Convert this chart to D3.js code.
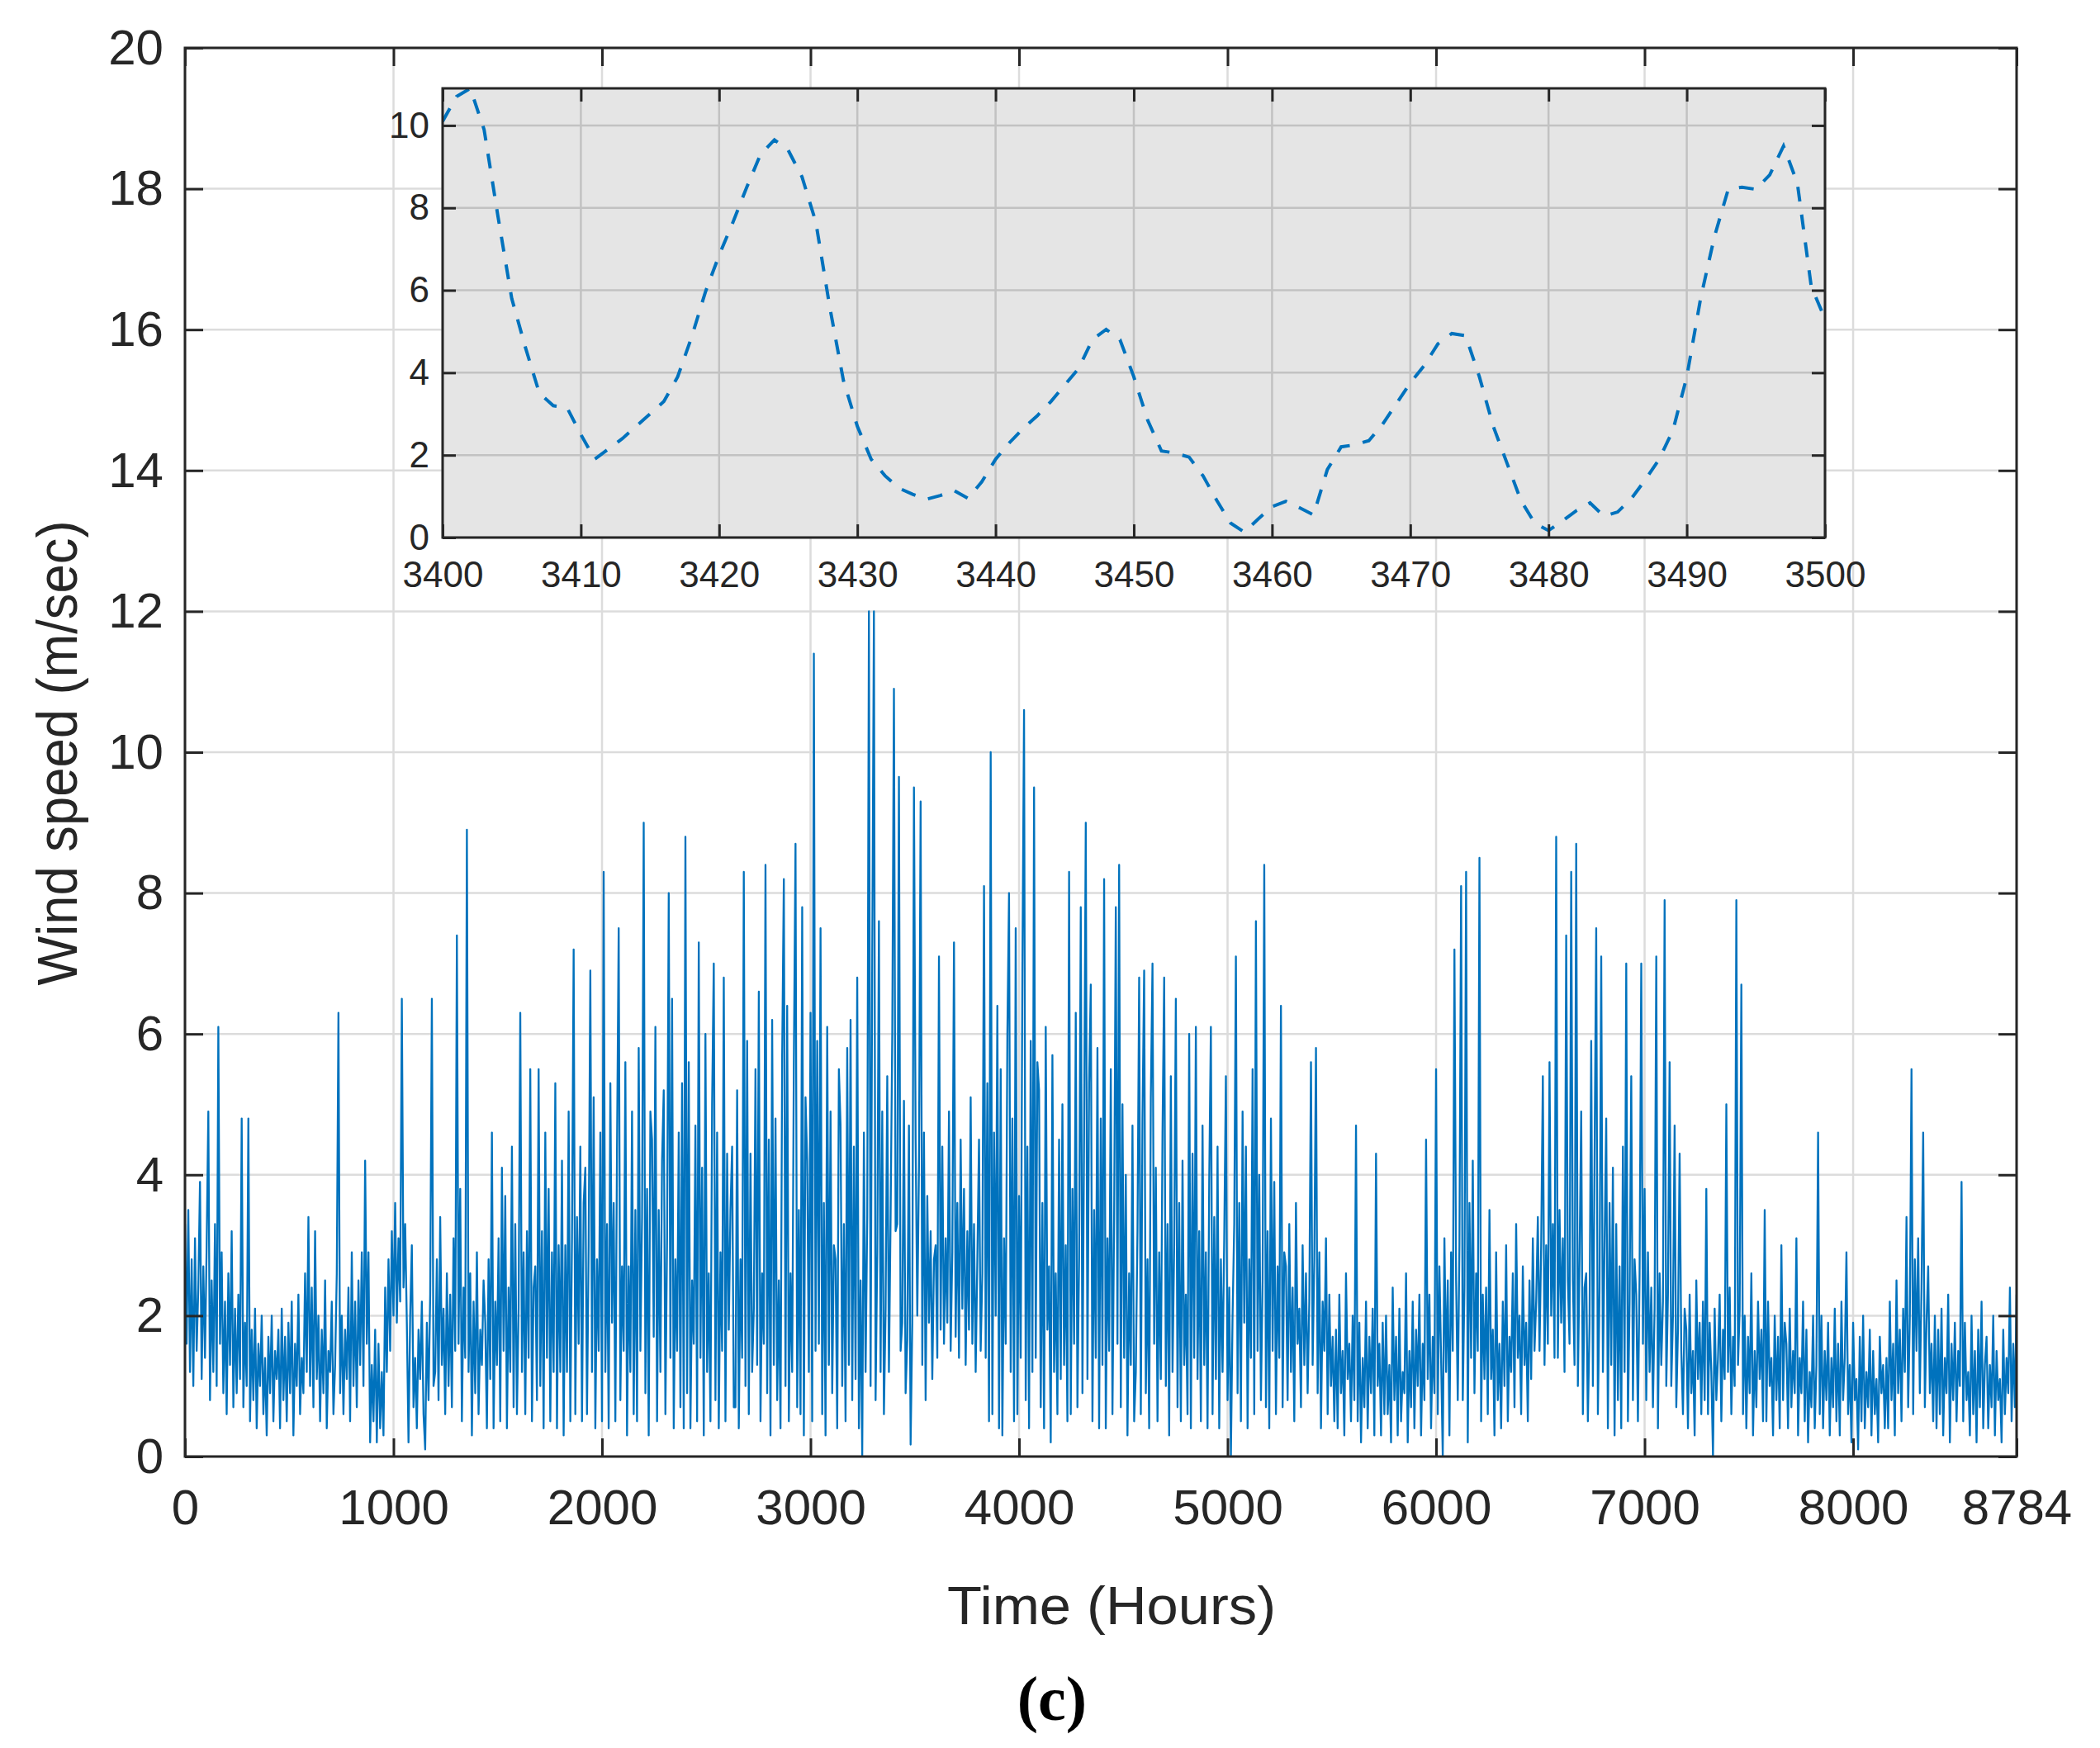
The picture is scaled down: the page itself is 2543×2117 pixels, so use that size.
<!DOCTYPE html>
<html>
<head>
<meta charset="utf-8">
<script src="https://cdn.jsdelivr.net/npm/d3@7"></script>
<style>
  body { margin: 0; background: #fff; }
  text { font-family: "Liberation Sans", Arial, sans-serif; fill: #262626; }
</style>
</head>
<body>
<svg id="chart" width="2543" height="2117"></svg>
<script>
// wind speed every 8 hours; one row = 240 hours
var hourStep = 8, rowHours = 240;
var windRows = [
  [3.3,1.6,3.5,1.2,2.8,1.0,3.1,1.5,2.4,3.9,1.1,2.7,1.4,3.0,4.9,0.8,2.5,1.2,3.3,1.0,6.1,1.6,2.9,0.9,2.2,0.6,2.6,1.3,3.2,0.7],
  [2.1,0.9,2.3,1.1,4.8,0.7,1.9,1.0,4.8,0.5,1.8,0.8,2.1,0.4,1.6,1.0,2.0,0.6,1.4,0.3,1.7,0.9,2.0,0.5,1.5,1.1,1.8,0.4,2.1,0.8],
  [1.7,0.5,1.9,0.9,2.2,0.3,1.6,1.0,2.3,0.6,1.4,0.9,2.6,1.2,3.4,1.0,2.4,0.7,3.2,1.1,2.0,0.5,1.8,0.9,2.5,0.4,1.5,1.2,2.2,0.6],
  [1.3,2.6,6.3,0.9,2.0,0.6,1.8,1.1,2.4,0.5,2.9,1.0,2.2,0.7,2.5,1.3,2.9,1.0,4.2,1.6,2.9,0.2,1.3,0.5,1.8,0.2,1.6,0.4,1.2,0.3],
  [2.4,1.2,2.8,1.5,3.2,2.0,3.6,1.9,3.1,2.2,6.5,2.4,3.3,1.9,0.2,2.0,3.0,0.7,1.4,0.4,1.8,1.1,2.2,0.6,0.1,1.9,0.8,2.3,6.5,1.0],
  [1.2,2.8,0.8,3.4,1.3,2.1,0.6,2.6,1.0,2.3,0.7,3.1,1.5,7.4,1.6,3.8,0.5,2.4,1.4,8.9,1.2,2.6,0.3,2.2,0.9,2.9,0.6,1.8,1.3,2.5],
  [1.9,0.4,2.8,1.1,4.6,0.4,2.2,1.3,3.1,0.5,4.1,1.5,3.7,0.4,2.4,1.2,4.4,0.7,3.3,0.6,2.1,6.3,1.2,2.9,0.6,3.2,1.4,5.5,0.5,2.4],
  [2.7,0.8,5.5,1.0,3.2,0.4,4.6,1.4,3.8,0.5,2.9,1.2,5.3,0.4,3.0,1.2,4.2,0.3,3.0,1.2,4.9,0.5,3.1,7.2,0.6,3.4,1.6,4.4,0.5,3.6],
  [4.1,0.6,3.0,6.9,1.2,5.1,0.4,2.8,1.5,4.6,0.5,8.3,1.2,3.3,0.4,5.3,1.9,3.6,0.5,4.4,7.5,0.8,2.7,1.5,5.6,0.3,2.7,1.2,4.9,0.6],
  [3.5,0.5,5.8,1.5,3.4,9.0,0.9,3.8,0.3,4.9,4.5,1.7,6.1,0.5,3.5,1.2,4.2,5.2,0.6,3.1,8.0,1.4,6.5,0.4,2.8,1.5,4.6,0.7,5.3,0.4],
  [8.8,0.9,5.6,0.4,2.5,1.6,4.7,0.5,7.3,1.4,4.1,0.3,6.0,1.2,2.6,0.5,5.0,7.0,0.8,4.6,0.4,2.9,1.5,6.8,0.5,4.3,1.8,3.5,4.4,0.7],
  [0.7,5.2,0.4,2.8,1.4,8.3,1.0,5.9,0.6,4.3,1.2,2.1,5.5,1.3,6.6,0.5,2.6,1.6,8.4,0.9,4.5,0.3,6.2,1.3,4.8,0.8,2.5,0.4,5.7,8.2],
  [1.0,6.4,0.5,2.6,1.2,5.6,8.7,0.7,3.5,0.6,7.8,0.3,5.1,4.2,1.2,6.3,0.5,11.4,1.5,5.9,1.6,7.5,0.6,3.6,0.3,6.1,1.3,4.9,0.9,3.0],
  [2.8,0.4,5.5,4.7,1.0,3.3,0.5,5.8,1.3,6.2,0.8,4.4,1.1,6.8,0.4,2.5,0.0,4.6,1.2,3.4,12.0,1.0,7.1,12.0,0.8,2.9,7.6,1.2,4.9,0.6],
  [2.1,5.4,1.2,3.4,6.0,10.9,3.2,3.3,9.65,1.5,1.9,5.05,0.9,1.65,4.7,0.17,1.9,9.5,4.5,2.0,4.1,9.3,1.3,4.6,0.8,3.7,1.9,3.2,1.1,2.8],
  [3.0,1.4,7.1,1.8,4.4,1.6,3.1,1.9,4.9,1.5,2.9,7.3,1.7,3.6,1.4,4.5,2.1,3.8,1.3,3.2,1.8,5.1,1.6,3.3,1.2,2.8,4.5,1.5,2.6,8.1],
  [1.4,5.3,0.5,10.0,0.6,4.6,2.0,6.4,0.4,5.5,0.3,3.1,1.6,6.0,8.0,1.2,4.8,0.5,7.5,0.6,3.7,1.4,6.9,10.6,0.8,4.4,0.4,5.9,1.2,9.5],
  [1.4,5.6,5.2,0.7,3.6,0.4,6.1,1.8,2.7,0.2,5.7,1.2,2.6,0.6,4.5,1.1,5.0,1.3,3.0,0.5,8.3,0.6,3.8,1.6,6.3,0.7,2.8,7.8,0.9,4.6],
  [9.0,1.1,5.3,6.7,0.5,3.5,1.4,5.8,0.4,4.8,1.3,8.2,0.4,3.1,1.5,5.5,0.6,3.4,7.8,1.6,8.4,0.7,5.0,1.4,4.0,0.3,2.6,1.3,4.7,0.5],
  [1.2,3.2,6.8,0.6,4.8,6.9,0.9,2.8,0.4,5.1,7.0,1.6,4.1,0.5,2.9,1.1,4.6,6.8,1.0,3.3,0.3,5.4,1.2,3.0,6.5,0.7,3.6,0.5,4.2,1.3],
  [2.3,0.6,6.0,0.4,4.3,1.4,6.1,1.1,3.2,0.5,4.7,1.3,2.9,0.4,3.9,6.1,0.6,3.4,1.1,4.4,0.4,2.8,1.2,3.1,5.4,0.8,2.4,0.0,2.0,3.3],
  [7.1,0.9,3.6,0.5,4.9,1.9,4.4,0.4,2.8,1.4,5.5,0.6,7.6,1.5,4.0,0.8,2.5,8.4,0.7,3.2,0.4,4.8,1.5,3.9,0.6,2.7,1.4,6.4,0.7,2.9],
  [2.7,0.8,3.3,1.2,2.4,0.5,3.6,1.6,2.1,0.7,3.0,1.3,2.6,0.9,2.2,5.6,1.3,2.8,5.8,0.9,2.9,0.4,2.2,1.5,3.1,0.6,2.3,1.0,1.7,0.5],
  [1.8,0.4,2.3,0.9,1.5,0.3,2.6,1.1,1.6,0.5,2.0,0.8,4.7,0.5,1.9,0.2,1.4,0.7,2.2,0.4,1.7,0.9,2.1,0.3,4.3,1.0,1.6,0.3,1.9,0.6],
  [2.0,0.6,1.3,0.2,2.4,0.8,1.7,0.3,2.1,0.5,1.2,0.9,2.6,0.2,1.5,0.7,2.2,0.4,1.8,1.0,2.3,0.3,1.6,0.8,4.5,1.1,2.3,0.4,1.7,0.9],
  [5.5,0.6,2.7,1.4,0.0,3.1,1.2,2.5,0.3,2.9,1.5,7.2,2.5,0.8,3.0,8.1,0.8,2.4,8.3,0.2,3.6,1.4,4.2,0.9,2.6,1.5,8.5,0.5,2.3,1.1],
  [2.4,0.6,3.5,1.1,1.8,0.3,2.9,0.8,1.6,0.4,2.2,1.0,3.0,0.5,1.7,1.2,2.6,0.7,3.3,1.4,2.0,0.6,2.7,1.3,1.9,0.5,2.5,1.1,3.1,1.5],
  [2.2,3.4,1.5,3.0,5.4,1.3,3.0,1.6,5.6,2.0,3.3,1.4,8.8,1.4,3.5,1.9,3.1,1.2,7.4,2.5,1.6,8.3,2.5,1.3,8.7,1.0,2.8,4.9,0.6,2.4],
  [2.6,0.5,1.9,5.9,1.0,4.2,7.5,0.6,2.4,7.1,1.2,3.0,4.8,0.4,3.6,1.3,4.1,0.3,3.3,0.8,2.7,0.4,4.4,1.2,7.0,0.5,2.2,5.4,0.8,2.8],
  [2.3,0.5,2.6,7.0,1.6,3.8,0.8,2.9,1.2,2.4,0.7,2.1,7.1,0.4,2.6,1.3,2.2,7.9,1.0,2.3,5.6,1.0,2.0,4.7,0.7,1.8,4.3,1.5,0.6,2.1],
  [1.8,0.4,2.3,0.9,1.5,0.3,2.5,1.1,1.9,0.6,2.2,0.8,3.8,0.6,1.9,1.2,0.0,2.1,0.8,1.4,2.3,0.5,1.8,1.1,5.0,1.2,2.4,0.6,1.7,1.0],
  [7.9,1.3,2.1,6.7,0.6,2.0,0.4,1.7,0.9,2.6,0.3,1.5,0.7,2.2,1.1,1.8,0.5,3.5,0.5,2.2,1.0,1.4,0.3,2.0,0.8,1.7,0.4,3.0,0.8,1.9],
  [1.6,0.4,2.1,0.7,1.5,0.9,3.1,0.3,1.4,0.9,2.2,0.5,1.8,0.2,1.2,0.7,2.0,0.4,1.3,4.6,0.6,2.0,0.4,1.5,0.8,1.9,0.3,1.4,0.7,2.1],
  [0.5,1.6,0.3,2.2,0.8,1.4,2.9,0.6,1.3,0.2,1.9,0.8,1.1,0.1,1.7,0.5,2.0,0.4,1.2,0.7,1.8,0.3,1.5,0.6,1.1,0.2,1.7,0.9,1.3,0.4],
  [1.4,0.4,2.2,0.8,1.6,0.3,2.5,0.9,1.8,0.5,2.1,1.2,3.4,0.7,2.0,5.5,0.6,2.8,1.5,3.1,0.9,2.4,4.6,0.7,1.9,2.7,0.9,1.6,0.5,2.0],
  [0.4,1.8,0.6,2.1,0.3,1.4,0.9,2.3,0.2,1.6,0.8,1.9,0.5,1.5,1.0,3.9,0.5,1.9,0.8,1.2,0.3,2.0,0.6,1.5,0.2,1.8,0.7,2.2,0.4,1.3],
  [1.7,0.4,1.3,0.7,2.0,0.3,1.5,0.8,1.1,0.2,1.8,0.6,1.4,0.9,2.4,0.5,1.6,0.7,2.3]
];
var xTicks = [0, 1000, 2000, 3000, 4000, 5000, 6000, 7000, 8000, 8784];
var yTicks = [0, 2, 4, 6, 8, 10, 12, 14, 16, 18, 20];

// zoomed window, hourly, 3400 .. 3500
var zoomStart = 3400;
var zoomSpeed = [
  10.1,10.7,10.9,9.9,7.8,5.8,4.6,3.5,3.2,3.15,
  2.5,1.9,2.15,2.4,2.7,3.0,3.3,3.9,4.85,5.95,
  6.85,7.65,8.5,9.3,9.65,9.4,8.75,7.65,5.6,3.8,
  2.7,1.9,1.5,1.2,1.05,0.93,1.02,1.14,0.95,1.35,
  1.9,2.3,2.65,2.95,3.3,3.7,4.1,4.8,5.05,4.8,
  3.9,2.85,2.1,2.05,1.95,1.5,0.9,0.35,0.13,0.45,
  0.75,0.88,0.72,0.55,1.65,2.2,2.25,2.35,2.75,3.25,
  3.75,4.17,4.7,4.95,4.9,3.9,2.7,1.8,0.9,0.35,
  0.17,0.4,0.65,0.84,0.52,0.62,0.95,1.4,1.9,2.6,
  3.9,5.8,7.3,8.45,8.5,8.45,8.8,9.5,8.6,6.1,5.3
];
var zoomXTicks = [3400, 3410, 3420, 3430, 3440, 3450, 3460, 3470, 3480, 3490, 3500];
var zoomYTicks = [0, 2, 4, 6, 8, 10];

var windPoints = [];
windRows.forEach(function(row, k) {
    row.forEach(function(v, j) {
        windPoints.push({ hour: k * rowHours + j * hourStep, speed: v });
    });
});

var svg = d3.select("#chart");
var lineBlue = "#0072bd", axisCol = "#262626";

// main axes
var plot = { left: 224, right: 2442, top: 58, bottom: 1764 };
var x = d3.scaleLinear().domain([0, 8784]).range([plot.left, plot.right]);
var y = d3.scaleLinear().domain([0, 20]).range([plot.bottom, plot.top]);

var grid = svg.append("g");
grid.selectAll(".gx").data(xTicks).enter().append("line")
    .attr("x1", d => x(d)).attr("x2", d => x(d))
    .attr("y1", plot.top).attr("y2", plot.bottom)
    .attr("stroke", "#dcdcdc").attr("stroke-width", 2.5);
grid.selectAll(".gy").data(yTicks).enter().append("line")
    .attr("x1", plot.left).attr("x2", plot.right)
    .attr("y1", d => y(d)).attr("y2", d => y(d))
    .attr("stroke", "#dcdcdc").attr("stroke-width", 2.5);

svg.append("clipPath").attr("id", "mainClip").append("rect")
    .attr("x", plot.left).attr("y", plot.top)
    .attr("width", plot.right - plot.left).attr("height", plot.bottom - plot.top);

var mainLine = d3.line()
    .x(function(d) { return x(d.hour); })
    .y(function(d) { return y(d.speed); });

svg.append("path")
    .datum(windPoints)
    .attr("clip-path", "url(#mainClip)")
    .attr("d", mainLine)
    .attr("fill", "none")
    .attr("stroke", lineBlue)
    .attr("stroke-width", 2.3)
    .attr("stroke-linejoin", "round");

var styleAxis = function(g, size) {
    g.select(".domain").remove();
    g.selectAll(".tick line").attr("stroke", axisCol).attr("stroke-width", 3);
    g.selectAll("text").style("font-size", size + "px").attr("fill", axisCol);
};

svg.append("g").attr("transform", "translate(0," + plot.bottom + ")")
    .call(d3.axisBottom(x).tickValues(xTicks).tickFormat(d3.format("d"))
        .tickSizeInner(-22).tickSizeOuter(0).tickPadding(39))
    .call(styleAxis, 60);
svg.append("g").attr("transform", "translate(0," + plot.top + ")")
    .call(d3.axisTop(x).tickValues(xTicks).tickFormat("").tickSizeInner(-22).tickSizeOuter(0))
    .call(styleAxis, 60);
svg.append("g").attr("transform", "translate(" + plot.left + ",0)")
    .call(d3.axisLeft(y).tickValues(yTicks).tickFormat(d3.format("d"))
        .tickSizeInner(-22).tickSizeOuter(0).tickPadding(26))
    .call(styleAxis, 60);
svg.append("g").attr("transform", "translate(" + plot.right + ",0)")
    .call(d3.axisRight(y).tickValues(yTicks).tickFormat("").tickSizeInner(-22).tickSizeOuter(0))
    .call(styleAxis, 60);

svg.append("rect")
    .attr("x", plot.left).attr("y", plot.top)
    .attr("width", plot.right - plot.left).attr("height", plot.bottom - plot.top)
    .attr("fill", "none").attr("stroke", axisCol).attr("stroke-width", 3);

// inset
var box = { left: 536, right: 2210, top: 107, bottom: 651 };
var xi = d3.scaleLinear().domain([3400, 3500]).range([box.left, box.right]);
var yi = d3.scaleLinear().domain([0, 10.9]).range([box.bottom, box.top]);

svg.append("rect")
    .attr("x", box.left).attr("y", box.top)
    .attr("width", box.right - box.left).attr("height", box.bottom - box.top)
    .attr("fill", "#e5e5e5");

var igrid = svg.append("g");
igrid.selectAll(".ix").data(zoomXTicks).enter().append("line")
    .attr("x1", d => xi(d)).attr("x2", d => xi(d))
    .attr("y1", box.top).attr("y2", box.bottom)
    .attr("stroke", "#c2c2c2").attr("stroke-width", 2.5);
igrid.selectAll(".iy").data(zoomYTicks).enter().append("line")
    .attr("x1", box.left).attr("x2", box.right)
    .attr("y1", d => yi(d)).attr("y2", d => yi(d))
    .attr("stroke", "#c2c2c2").attr("stroke-width", 2.5);

svg.append("clipPath").attr("id", "insetClip").append("rect")
    .attr("x", box.left).attr("y", box.top - 2)
    .attr("width", box.right - box.left).attr("height", box.bottom - box.top + 4);

var zoomLine = d3.line()
    .x(function(d, i) { return xi(zoomStart + i); })
    .y(function(d) { return yi(d); });

svg.append("path")
    .datum(zoomSpeed)
    .attr("clip-path", "url(#insetClip)")
    .attr("d", zoomLine)
    .attr("fill", "none")
    .attr("stroke", lineBlue)
    .attr("stroke-width", 4)
    .attr("stroke-dasharray", "18,16");

svg.append("g").attr("transform", "translate(0," + box.bottom + ")")
    .call(d3.axisBottom(xi).tickValues(zoomXTicks).tickFormat(d3.format("d"))
        .tickSizeInner(-16).tickSizeOuter(0).tickPadding(29))
    .call(styleAxis, 44);
svg.append("g").attr("transform", "translate(0," + box.top + ")")
    .call(d3.axisTop(xi).tickValues(zoomXTicks).tickFormat("").tickSizeInner(-16).tickSizeOuter(0))
    .call(styleAxis, 44);
svg.append("g").attr("transform", "translate(" + box.left + ",0)")
    .call(d3.axisLeft(yi).tickValues(zoomYTicks).tickFormat(d3.format("d"))
        .tickSizeInner(-16).tickSizeOuter(0).tickPadding(16))
    .call(styleAxis, 44);
svg.append("g").attr("transform", "translate(" + box.right + ",0)")
    .call(d3.axisRight(yi).tickValues(zoomYTicks).tickFormat("").tickSizeInner(-16).tickSizeOuter(0))
    .call(styleAxis, 44);

svg.append("rect")
    .attr("x", box.left).attr("y", box.top)
    .attr("width", box.right - box.left).attr("height", box.bottom - box.top)
    .attr("fill", "none").attr("stroke", axisCol).attr("stroke-width", 3);

// titles
svg.append("text")
    .attr("x", 1346).attr("y", 1967)
    .attr("text-anchor", "middle")
    .attr("textLength", 398).attr("lengthAdjust", "spacingAndGlyphs")
    .style("font-size", "64px")
    .text("Time (Hours)");

svg.append("text")
    .attr("transform", "translate(93,912) rotate(-90)")
    .attr("text-anchor", "middle")
    .attr("textLength", 563).attr("lengthAdjust", "spacingAndGlyphs")
    .style("font-size", "68px")
    .text("Wind speed (m/sec)");

svg.append("text")
    .attr("x", 1274).attr("y", 2083)
    .attr("text-anchor", "middle")
    .style("font-family", "'Liberation Serif', 'Times New Roman', serif")
    .style("font-weight", "bold")
    .style("font-size", "76px")
    .style("fill", "#000")
    .text("(c)");
</script>
</body>
</html>
